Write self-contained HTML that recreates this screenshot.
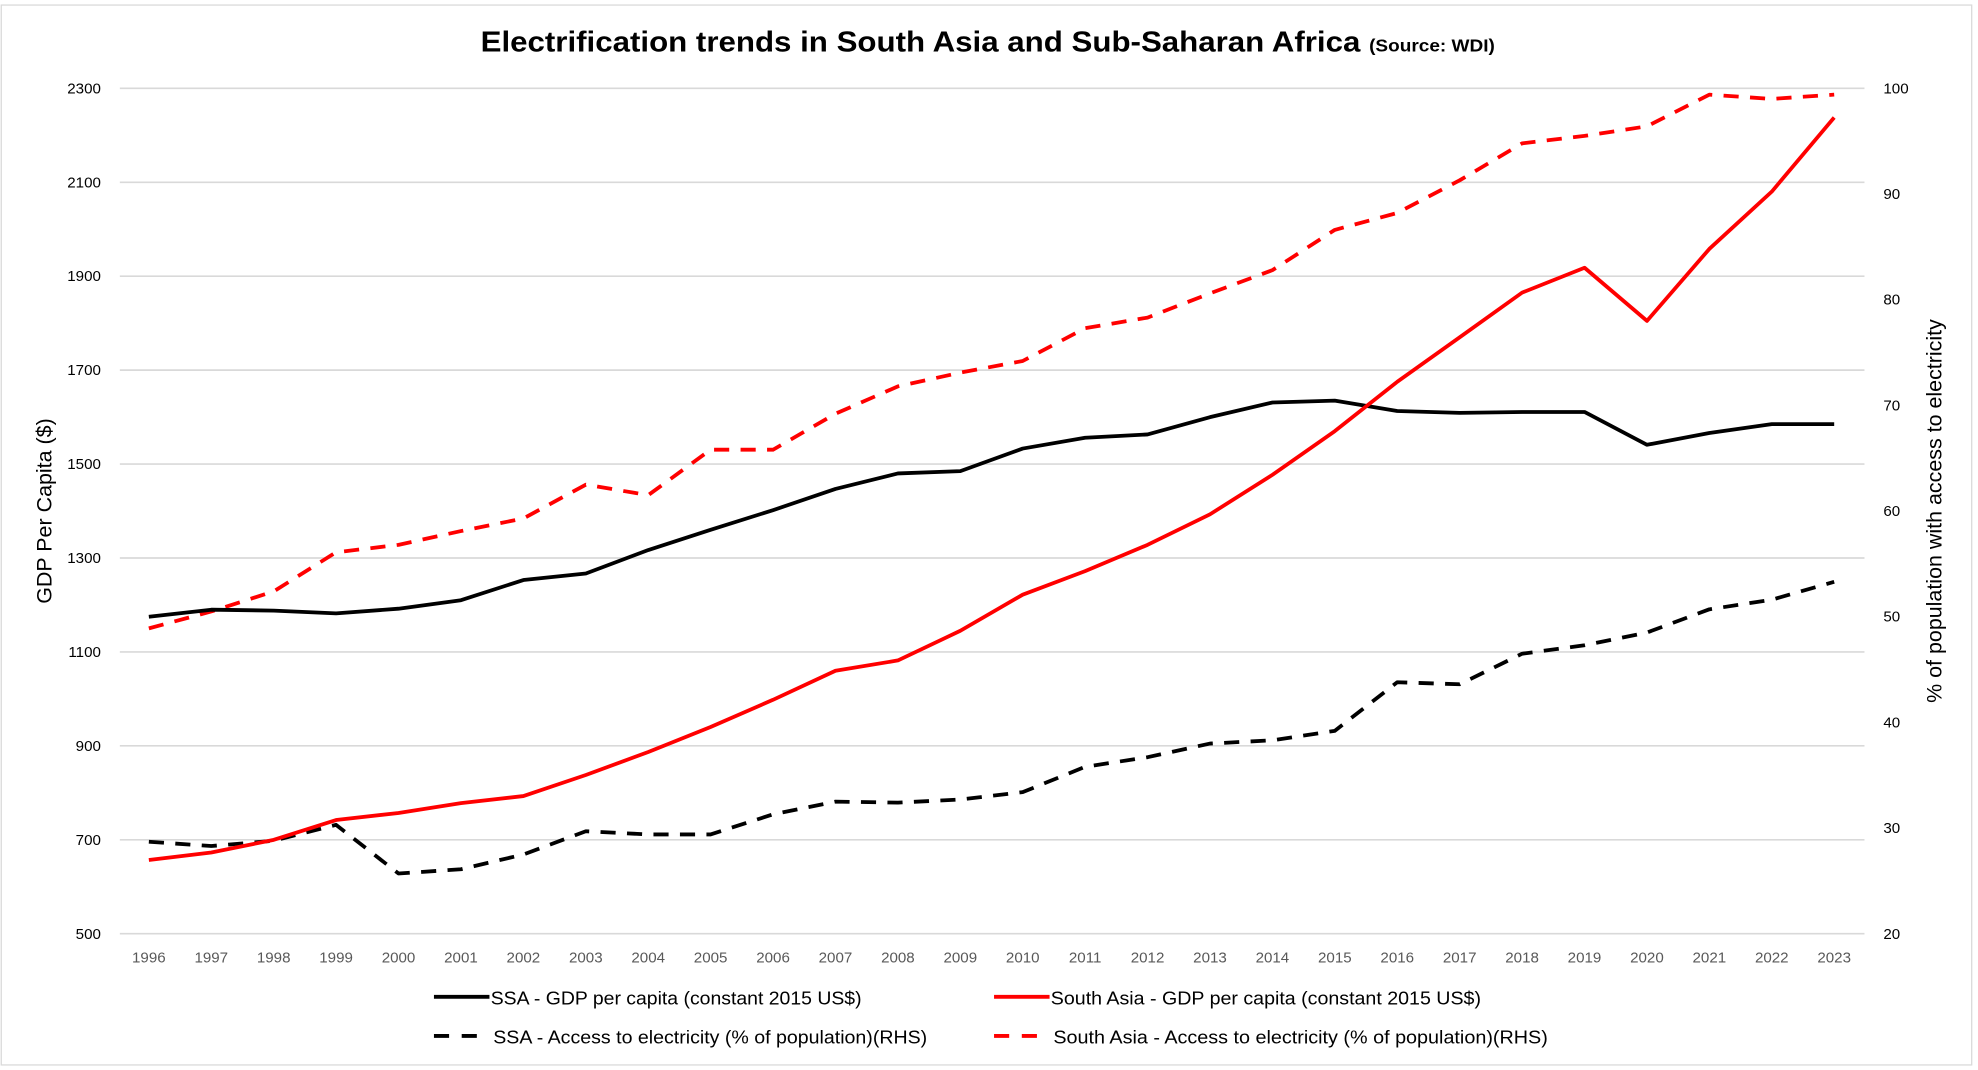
<!DOCTYPE html>
<html><head><meta charset="utf-8"><style>
html,body{margin:0;padding:0;background:#fff;}
svg{display:block;font-family:"Liberation Sans",sans-serif;}
</style></head><body>
<svg id="chart" width="1978" height="1070" viewBox="0 0 1568 848" preserveAspectRatio="none" xmlns="http://www.w3.org/2000/svg">
<rect x="0" y="0" width="1568" height="848" fill="#fff"/>
<rect x="1" y="4" width="1562" height="840" fill="none" stroke="#d9d9d9" stroke-width="1"/>
<text x="381" y="41" font-size="23" font-weight="bold" fill="#000" textLength="804" lengthAdjust="spacingAndGlyphs">Electrification trends in South Asia and Sub-Saharan Africa <tspan font-size="14">(Source: WDI)</tspan></text>
<g id="grid"></g><g id="axes"></g><g id="series"></g>
<text transform="translate(41,405) rotate(-90)" text-anchor="middle" font-size="17" fill="#000">GDP Per Capita ($)</text>
<text transform="translate(1539,405) rotate(-90)" text-anchor="middle" font-size="17" fill="#000">% of population with access to electricity</text>
<g font-size="15" fill="#000">
<g><line x1="344" y1="790" x2="388" y2="790" stroke="#000" stroke-width="3"/><text x="389" y="796" textLength="294" lengthAdjust="spacingAndGlyphs">SSA - GDP per capita (constant 2015 US$)</text></g>
<g><line x1="788" y1="790" x2="832" y2="790" stroke="#ff0000" stroke-width="3"/><text x="833" y="796" textLength="341" lengthAdjust="spacingAndGlyphs">South Asia - GDP per capita (constant 2015 US$)</text></g>
<g><line x1="344" y1="821" x2="388" y2="821" stroke="#000" stroke-width="3" stroke-dasharray="12,10"/><text x="391" y="827" textLength="344" lengthAdjust="spacingAndGlyphs">SSA - Access to electricity (% of population)(RHS)</text></g>
<g><line x1="788" y1="821" x2="832" y2="821" stroke="#ff0000" stroke-width="3" stroke-dasharray="12,10"/><text x="835" y="827" textLength="392" lengthAdjust="spacingAndGlyphs">South Asia - Access to electricity (% of population)(RHS)</text></g>
</g>
</svg>
<script>
const years = [1996,1997,1998,1999,2000,2001,2002,2003,2004,2005,2006,2007,2008,2009,2010,2011,2012,2013,2014,2015,2016,2017,2018,2019,2020,2021,2022,2023];
const ssaGdp = [1175,1190,1188,1182,1192,1210,1253,1267,1317,1360,1402,1447,1480,1485,1533,1556,1563,1600,1631,1635,1613,1609,1611,1611,1541,1566,1585,1585];
const saGdp = [657,673,700,742,757,778,793,838,887,940,998,1060,1082,1145,1222,1272,1328,1393,1477,1570,1675,1770,1865,1918,1805,1958,2080,2238];
const ssaAccess = [28.7,28.3,28.8,30.3,25.7,26.1,27.5,29.7,29.4,29.4,31.3,32.5,32.4,32.7,33.4,35.8,36.7,38.0,38.3,39.2,43.8,43.6,46.5,47.3,48.5,50.7,51.6,53.3];
const saAccess = [48.9,50.5,52.4,56.1,56.8,58.1,59.3,62.5,61.5,65.8,65.8,69.2,71.8,73.1,74.2,77.3,78.3,80.6,82.8,86.6,88.2,91.3,94.8,95.5,96.4,99.4,99.0,99.4];
const leftTicks = [500,700,900,1100,1300,1500,1700,1900,2100,2300];
const rightTicks = [20,30,40,50,60,70,80,90,100];

const NS='http://www.w3.org/2000/svg';
const X0=118, X1=1454, YT=70, YB=740;
function xPos(i){return X0+(X1-X0)*i/(years.length-1);}
function yL(v){return YB-(v-500)/(2300-500)*(YB-YT);}
function yR(v){return YB-(v-20)/(100-20)*(YB-YT);}
function mk(tag,attrs,parent){const e=document.createElementNS(NS,tag);for(const k in attrs)e.setAttribute(k,attrs[k]);parent.appendChild(e);return e;}
const grid=document.getElementById('grid'),axes=document.getElementById('axes'),series=document.getElementById('series');
leftTicks.forEach(v=>{
  const l=mk('line',{x1:95,x2:1478,y1:yL(v),y2:yL(v),stroke:'#d9d9d9','stroke-width':1.3},grid);
  
  
  const t=mk('text',{x:80,y:yL(v)+4,'text-anchor':'end','font-size':12,fill:'#000'},axes);
  t.textContent=v;
  
  
});
rightTicks.forEach(v=>{
  const t=mk('text',{x:1493,y:yR(v)+4,'font-size':12,fill:'#000'},axes);
  t.textContent=v;
  
  
});
years.forEach((y,i)=>{
  const t=mk('text',{x:xPos(i),y:763,'text-anchor':'middle','font-size':12,fill:'#595959'},axes);
  t.textContent=y;
  
  
});
function line(vals,yf,color,dash,name){
  const pts=vals.map((v,i)=>xPos(i).toFixed(1)+','+yf(v).toFixed(1)).join(' ');
  const p=mk('polyline',{points:pts,fill:'none',stroke:color,'stroke-width':3,'stroke-linejoin':'round'},series);
  if(dash)p.setAttribute('stroke-dasharray','12,9');
  
  
}
line(saAccess,yR,'#ff0000',true,'sa-access-line');
line(ssaAccess,yR,'#000',true,'ssa-access-line');
line(ssaGdp,yL,'#000',false,'ssa-gdp-line');
line(saGdp,yL,'#ff0000',false,'sa-gdp-line');
</script>
</body></html>
